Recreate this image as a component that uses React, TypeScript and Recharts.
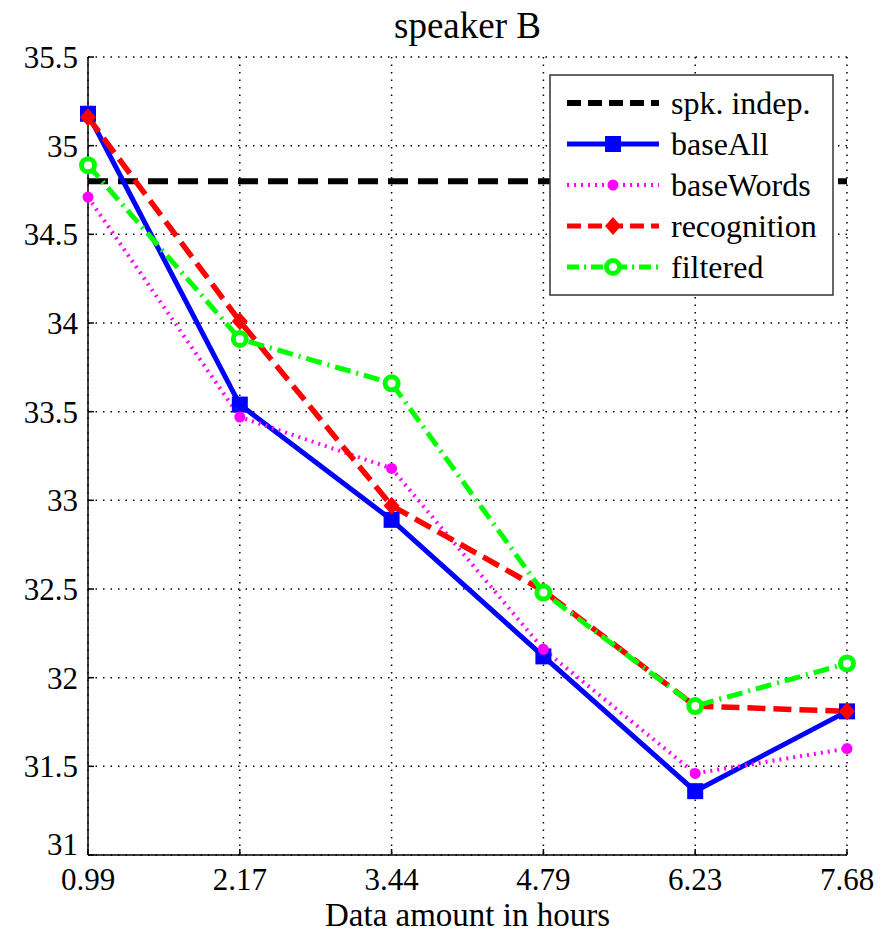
import { CartesianGrid, Line, LineChart, ReferenceLine, XAxis, YAxis } from "recharts";

const hours = ["0.99", "2.17", "3.44", "4.79", "6.23", "7.68"];
const baseAll = [35.18, 33.54, 32.89, 32.12, 31.36, 31.81];
const baseWords = [34.71, 33.47, 33.18, 32.16, 31.46, 31.6];
const recognition = [35.16, 34.01, 32.97, 32.49, 31.84, 31.81];
const filtered = [34.89, 33.91, 33.66, 32.48, 31.84, 32.08];
const spkIndep = 34.8;
const yTicks = [31, 31.5, 32, 32.5, 33, 33.5, 34, 34.5, 35, 35.5];

const data = hours.map((h, i) => ({
  x: h,
  baseAll: baseAll[i],
  baseWords: baseWords[i],
  recognition: recognition[i],
  filtered: filtered[i],
}));

const FONT = "Liberation Serif, Times New Roman, serif";

const square = (color: string) => (p: any) => (
  <rect key={`sq-${p.index}`} x={p.cx - 8} y={p.cy - 8} width={16} height={16} fill={color} />
);
const diamond = (color: string) => (p: any) => (
  <path key={`dm-${p.index}`} d={`M${p.cx},${p.cy - 9}L${p.cx + 8},${p.cy}L${p.cx},${p.cy + 9}L${p.cx - 8},${p.cy}Z`} fill={color} />
);
const ring = (color: string) => (p: any) => (
  <circle key={`rg-${p.index}`} cx={p.cx} cy={p.cy} r={6.5} fill="#fff" stroke={color} strokeWidth={5} />
);
const blob = (color: string) => (p: any) => (
  <circle key={`bl-${p.index}`} cx={p.cx} cy={p.cy} r={5.5} fill={color} />
);

// the lowest y label sits right above "0.99", nudge it up a little
const YTick = (p: any) => (
  <text
    x={p.x}
    y={p.y + (p.payload.value === 31 ? -11 : 0)}
    dy="0.355em"
    textAnchor="end"
    fontFamily={FONT}
    fontSize={31}
    fill="#000"
  >
    {p.payload.value}
  </text>
);

const legendItems = [
  { name: "spk. indep.", color: "#000000", width: 6, dash: "14 7", mark: null },
  { name: "baseAll", color: "#0000ff", width: 5, dash: undefined, mark: "square" },
  { name: "baseWords", color: "#ff00ff", width: 4, dash: "2 5", mark: "blob" },
  { name: "recognition", color: "#ff0000", width: 5, dash: "14 7", mark: "diamond" },
  { name: "filtered", color: "#00ff00", width: 5, dash: "12 5 2 5", mark: "ring" },
];

function LegendBox() {
  return (
    <svg width={285} height={222} style={{ position: "absolute", left: 549, top: 74 }}>
      <rect x={1} y={1} width={283} height={220} fill="#fff" stroke="#333" strokeWidth={1.5} />
      {legendItems.map((it, i) => {
        const y = 29 + i * 41;
        return (
          <g key={it.name}>
            <line x1={18} x2={110} y1={y} y2={y} stroke={it.color} strokeWidth={it.width} strokeDasharray={it.dash} />
            {it.mark === "square" && <rect x={56} y={y - 8} width={16} height={16} fill={it.color} />}
            {it.mark === "blob" && <circle cx={64} cy={y} r={5.5} fill={it.color} />}
            {it.mark === "diamond" && <path d={`M64,${y - 9}L72,${y}L64,${y + 9}L56,${y}Z`} fill={it.color} />}
            {it.mark === "ring" && <circle cx={64} cy={y} r={6.5} fill="#fff" stroke={it.color} strokeWidth={5} />}
            <text x={122} y={y} dy="0.35em" fontFamily={FONT} fontSize={32} fill="#000">
              {it.name}
            </text>
          </g>
        );
      })}
    </svg>
  );
}

export default function App() {
  return (
    <div style={{ position: "absolute", left: 0, top: 0, width: 887, height: 938, background: "#fff" }}>
      <div
        style={{
          position: "absolute",
          left: 0,
          width: 935,
          top: 4,
          textAlign: "center",
          fontFamily: FONT,
          fontSize: 37,
          lineHeight: "44px",
        }}
      >
        speaker B
      </div>
      <LineChart width={887} height={938} data={data} margin={{ top: 57, right: 40, bottom: 33, left: 0 }}>
        <CartesianGrid stroke="#000" strokeDasharray="1.5 6" strokeWidth={1.5} />
        <XAxis
          dataKey="x"
          interval={0}
          height={50}
          stroke="#000"
          strokeWidth={1.5}
          tickSize={-6}
          tickMargin={19}
          tick={{ fill: "#000", fontFamily: FONT, fontSize: 31 }}
        />
        <XAxis xAxisId="top" dataKey="x" orientation="top" height={0} mirror tick={false} tickSize={6} stroke="#000" strokeWidth={1.5} />
        <YAxis
          domain={[31, 35.5]}
          ticks={yTicks}
          width={88}
          stroke="#000"
          strokeWidth={1.5}
          tickSize={-6}
          tickMargin={16}
          interval={0}
          tick={YTick}
        />
        <YAxis
          yAxisId="r"
          orientation="right"
          domain={[31, 35.5]}
          ticks={yTicks}
          width={0}
          mirror
          tick={false}
          tickSize={6}
          stroke="#000"
          strokeWidth={1.5}
        />
        <ReferenceLine y={spkIndep} stroke="#000" strokeWidth={6} strokeDasharray="20 10" />
        <Line dataKey="baseAll" stroke="#0000ff" strokeWidth={5} dot={square("#0000ff")} isAnimationActive={false} />
        <Line
          dataKey="baseWords"
          stroke="#ff00ff"
          strokeWidth={4}
          strokeDasharray="2 5"
          dot={blob("#ff00ff")}
          isAnimationActive={false}
        />
        <Line
          dataKey="recognition"
          stroke="#ff0000"
          strokeWidth={5.5}
          strokeDasharray="18 8"
          dot={diamond("#ff0000")}
          isAnimationActive={false}
        />
        <Line
          dataKey="filtered"
          stroke="#00ff00"
          strokeWidth={5}
          strokeDasharray="16 6 2 6"
          dot={ring("#00ff00")}
          isAnimationActive={false}
        />
      </LineChart>
      <LegendBox />
      <div
        style={{
          position: "absolute",
          left: 0,
          width: 935,
          top: 894,
          textAlign: "center",
          fontFamily: FONT,
          fontSize: 33,
          lineHeight: "42px",
        }}
      >
        Data amount in hours
      </div>
    </div>
  );
}
